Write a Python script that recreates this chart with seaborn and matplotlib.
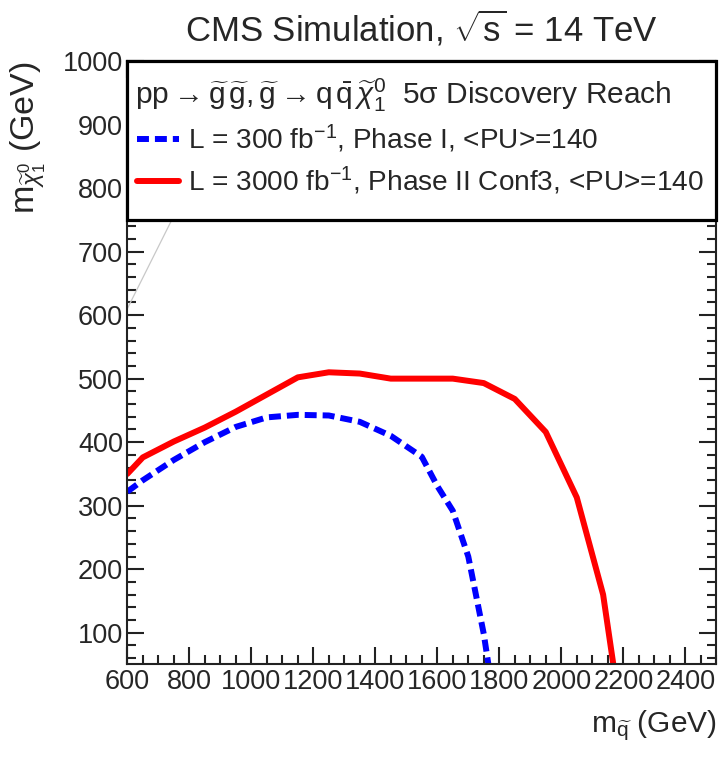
import matplotlib as mpl
import matplotlib.pyplot as plt
import seaborn as sns
from matplotlib.patches import Rectangle
from matplotlib.ticker import MultipleLocator

# gluino mass (GeV) vs neutralino mass (GeV) at the 5 sigma reach
phase1_x = [600, 650, 750, 850, 950, 1050, 1150, 1250, 1350, 1450, 1550, 1600, 1650, 1700, 1750, 1765]
phase1_y = [322, 340, 372, 400, 424, 439, 443, 442, 432, 410, 377, 331, 292, 220, 98, 50]

phase2_x = [600, 650, 750, 850, 950, 1050, 1150, 1250, 1350, 1450, 1550, 1650, 1750, 1850, 1950, 2050, 2135, 2168]
phase2_y = [350, 376, 401, 423, 448, 475, 502, 510, 508, 500, 500, 500, 493, 468, 416, 313, 160, 50]

# faint kinematic diagonal (mostly hidden behind the legend box)
diag_x = [600, 1000]
diag_y = [610, 1000]

label_phase1 = r"L = 300 fb$^{-1}$, Phase I, <PU>=140"
label_phase2 = r"L = 3000 fb$^{-1}$, Phase II Conf3, <PU>=140"
header = (r"pp$\rightarrow\widetilde{\rm g}\,\widetilde{\rm g}, \widetilde{\rm g}\rightarrow{\rm q}\,\bar{\rm q}\,"
          r"\widetilde{\chi}^{0}_{1}$  5σ Discovery Reach")

sns.set_style("ticks")
mpl.rcParams.update(
    {
        "font.family": ["Liberation Sans", "DejaVu Sans"],
        "mathtext.fontset": "custom",
        "mathtext.rm": "Liberation Sans",
        "mathtext.it": "Liberation Sans:italic",
        "mathtext.bf": "Liberation Sans:bold",
        "axes.edgecolor": "#222222",
        "axes.linewidth": 1.5,
    }
)

fig = plt.figure(figsize=(7.2, 7.57), dpi=100)
ax = fig.add_axes([0.1768, 0.1222, 0.818, 0.7972])

sns.lineplot(x=diag_x, y=diag_y, ax=ax, color="#c8c8c8", linewidth=0.9, sort=False, estimator=None)
sns.lineplot(x=phase1_x, y=phase1_y, ax=ax, color="#0000ff", linewidth=4.3, linestyle=(0, (2, 1)),
             sort=False, estimator=None, label=label_phase1)
sns.lineplot(x=phase2_x, y=phase2_y, ax=ax, color="#ff0000", linewidth=4.3,
             sort=False, estimator=None, label=label_phase2)

ax.set_xlim(600, 2500)
ax.set_ylim(50, 1000)
ax.xaxis.set_minor_locator(MultipleLocator(50))
ax.yaxis.set_minor_locator(MultipleLocator(20))
ax.set_yticks([100, 200, 300, 400, 500, 600, 700, 800, 900, 1000])
ax.set_xticks([600, 800, 1000, 1200, 1400, 1600, 1800, 2000, 2200, 2400])
ax.tick_params(which="both", direction="in", top=True, right=True, labelsize=19.5, color="#222222", pad=3)
ax.tick_params(which="major", length=12, width=1.5)
ax.tick_params(which="minor", length=6.5, width=1.5)

ax.set_xlabel(r"m$_{\widetilde{\rm q}}$ (GeV)", fontsize=21.5, loc="right")
ax.xaxis.set_label_coords(1.0, -0.072)
ax.set_ylabel(r"m$_{\widetilde{\chi}^{0}_{1}}$ (GeV)", fontsize=24.5, loc="top")
ax.yaxis.set_label_coords(-0.135, 1.0)
ax.set_title(r"CMS Simulation, $\sqrt{\rm s}$ = 14 TeV", fontsize=25, pad=14)

# legend box spanning the top of the frame
box = Rectangle((0, 0.7368), 1, 0.2632, transform=ax.transAxes, facecolor="white",
                edgecolor="black", linewidth=2.3, zorder=4, clip_on=False)
ax.add_patch(box)
ax.text(0.013, 0.928, header, transform=ax.transAxes, fontsize=21.5, va="baseline", ha="left", zorder=6)
leg = ax.legend(loc="upper left", bbox_to_anchor=(0.0165, 0.897), frameon=False, fontsize=20.2,
                handlelength=1.5, handletextpad=0.3, labelspacing=0.32, borderpad=0, borderaxespad=0)
leg.set_zorder(6)

fig.savefig("out.png", dpi=100)
